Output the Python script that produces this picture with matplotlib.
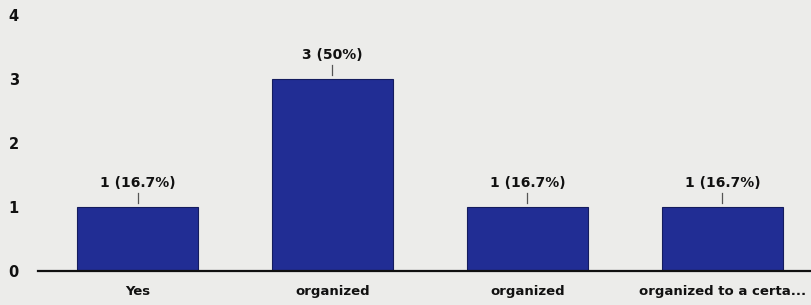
import numpy as np
import matplotlib.pyplot as plt

# respuestas y conteos
categorias = ["Yes", "organized", "organized", "organized to a certa..."]
conteos = [1, 3, 1, 1]
etiquetas = ["1 (16.7%)", "3 (50%)", "1 (16.7%)", "1 (16.7%)"]

plt.rcParams['font.family'] = ['DejaVu Sans']
plt.rcParams['font.weight'] = 'bold'

fig = plt.figure(figsize=(8.12, 3.05), dpi=100, facecolor='#ececea')
ax = fig.add_axes([0.047, 0.111, 0.953, 0.84])
ax.set_facecolor('#ececea')

x = np.arange(len(categorias))
ax.bar(x, conteos, width=0.62, color='#212d94', edgecolor='#141c5e', linewidth=0.8, zorder=2)

#etiquetas de valor con su rayita
for xi, c, t in zip(x, conteos, etiquetas):
    ax.plot([xi, xi], [c + 0.07, c + 0.22], color='#555555', lw=0.9, zorder=3)
    ax.text(xi, c + 0.27, t, ha='center', va='bottom', fontsize=10, fontweight='bold', color='#111111')

ax.set_xlim(-0.51, 3.46)
ax.set_ylim(0, 4)
ax.set_yticks([0, 1, 2, 3, 4])
ax.set_xticks(x)
ax.set_xticklabels(categorias, fontsize=9.5, fontweight='bold', color='#111111')
ax.tick_params(axis='y', length=0, pad=14, labelsize=10.5, labelcolor='#111111')
ax.tick_params(axis='x', length=0, pad=10)

for s in ['top', 'right', 'left']:
    ax.spines[s].set_visible(False)
ax.spines['bottom'].set_color('#111111')
ax.spines['bottom'].set_linewidth(1.6)

fig.savefig('out.png', dpi=100, facecolor=fig.get_facecolor())
